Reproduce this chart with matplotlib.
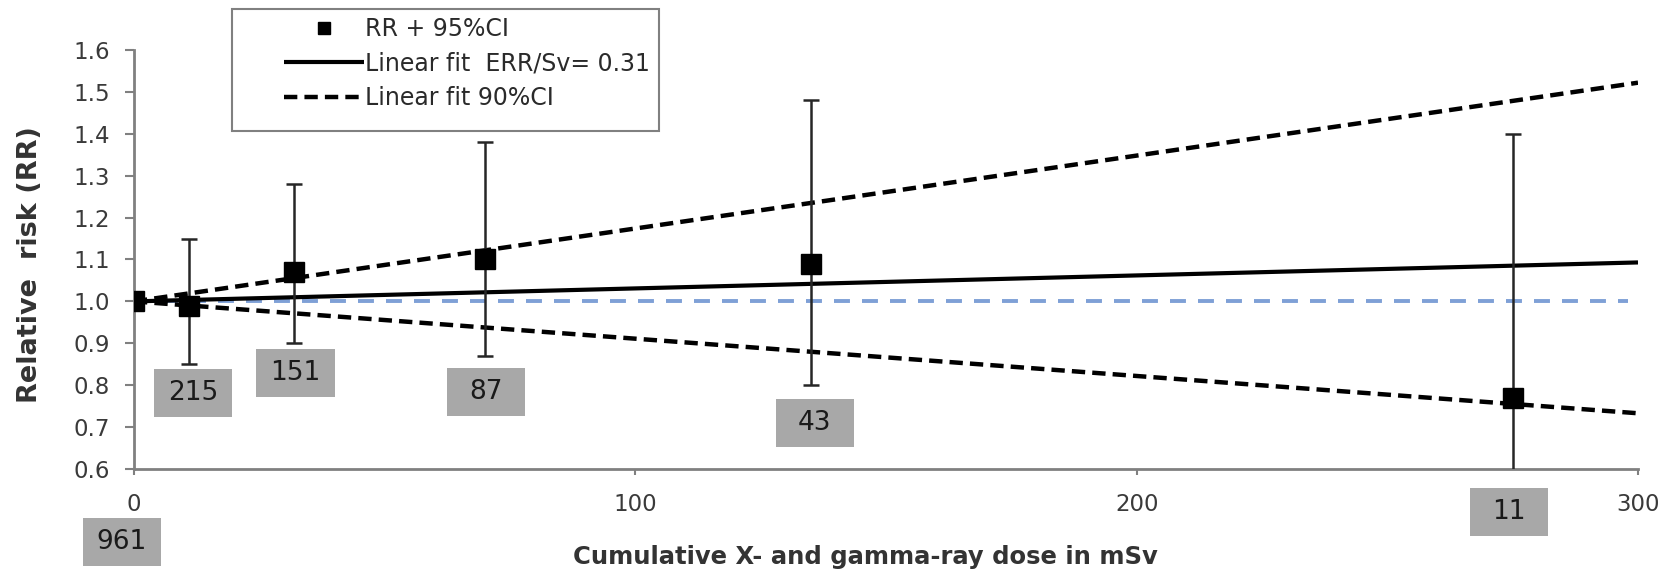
import matplotlib
matplotlib.use("Agg")
import matplotlib.pyplot as plt
from matplotlib.patches import Rectangle
import numpy as np

# ---------------- data ----------------
dose = [0, 11, 32, 70, 135, 275]                 # mSv
rr = [1.00, 0.99, 1.07, 1.10, 1.09, 0.77]
rr_low = [np.nan, 0.85, 0.90, 0.87, 0.80, 0.50]
rr_high = [np.nan, 1.15, 1.28, 1.38, 1.48, 1.40]
counts = ["961", "215", "151", "87", "43", "11"]

fit_x = [0, 300]
err_per_sv = 0.31
err_low_per_sv = -0.89
err_high_per_sv = 1.74
ref_level = 1.0
ref_extent = [0, 298]

x_ticks = [0, 100, 200, 300]
y_ticks = [0.6, 0.7, 0.8, 0.9, 1.0, 1.1, 1.2, 1.3, 1.4, 1.5, 1.6]

# ---------------- figure ----------------
plt.rcParams['font.family'] = ['DejaVu Sans']
W, H = 1671, 570
fig = plt.figure(figsize=(W / 100, H / 100), dpi=100)
ax = fig.add_axes([134 / W, 1 - 469 / H, 1504 / W, 419 / H])

fx = np.array(fit_x, dtype=float)
fit = 1 + err_per_sv * fx / 1000
fit_lo = 1 + err_low_per_sv * fx / 1000
fit_hi = 1 + err_high_per_sv * fx / 1000

ax.hlines(ref_level, ref_extent[0], ref_extent[1], colors='#7fa0d6',
          linewidth=2.8, linestyles=(0, (4.1, 3.1)), zorder=2)
ax.plot(fx, fit, color='black', lw=3, solid_capstyle='butt', zorder=3,
        label='Linear fit  ERR/Sv= 0.31')
ax.plot(fx, fit_hi, color='black', lw=3.2, ls=(0, (3.0, 1.6)), zorder=3,
        label='Linear fit 90%CI')
ax.plot(fx, fit_lo, color='black', lw=3.2, ls=(0, (3.0, 1.6)), zorder=3)

rr_a = np.array(rr)
yerr = np.vstack([rr_a - np.array(rr_low), np.array(rr_high) - rr_a])
yerr = np.nan_to_num(yerr, nan=0.0)
ax.errorbar(dose[1:], rr[1:], yerr=yerr[:, 1:], fmt='none', ecolor='#262626',
            elinewidth=1.8, capsize=6, capthick=1.8, zorder=4)
ax.plot(dose, rr, 's', color='black', ms=15, zorder=5, label='RR + 95%CI')

# count boxes (layout)
box_dx = [-2.4, 0.8, 0.2, 0.2, 0.8, -0.8]
box_y = [0.426, 0.781, 0.829, 0.784, 0.71, 0.497]
bw, bh = 15.6, 0.115
for x, dx, y, c in zip(dose, box_dx, box_y, counts):
    cx = x + dx
    ax.add_patch(Rectangle((cx - bw / 2, y - bh / 2), bw, bh, facecolor='#a8a8a8',
                           edgecolor='none', clip_on=False, zorder=6))
    ax.text(cx, y, c, ha='center', va='center', fontsize=19, color='#1a1a1a',
            zorder=7, clip_on=False)

ax.set_xlim(0, 300)
ax.set_ylim(0.6, 1.6)
ax.set_xticks(x_ticks)
ax.set_yticks(y_ticks)
ax.set_yticklabels([f"{v:.1f}" for v in y_ticks])
for s in ['top', 'right']:
    ax.spines[s].set_visible(False)
for s in ['left', 'bottom']:
    ax.spines[s].set_color('#808080')
    ax.spines[s].set_linewidth(2)
ax.tick_params(axis='y', length=6.5, width=1.5, color='#808080', pad=11,
               labelsize=16.5, labelcolor='#3a3a3a')
ax.tick_params(axis='x', length=4, width=1.5, color='#808080', pad=13,
               labelsize=16.5, labelcolor='#3a3a3a')

ax.set_xlabel('Cumulative X- and gamma-ray dose in mSv', fontsize=17.5,
              fontweight='bold', color='#333333')
ax.xaxis.label.set_verticalalignment('baseline')
ax.xaxis.set_label_coords((865 - 134) / 1504, (469 - 564) / 419)
ax.set_ylabel('Relative  risk (RR)', fontsize=19.5, fontweight='bold',
              color='#333333')
ax.yaxis.label.set_verticalalignment('center')
ax.yaxis.set_label_coords((30 - 134) / 1504, (469 - 265) / 419)

# legend with a separately drawn frame
fig.patches.append(Rectangle((232 / W, 1 - 131 / H), (659 - 232) / W, (131 - 9) / H,
                             transform=fig.transFigure, facecolor='white',
                             edgecolor='#808080', linewidth=1.5, zorder=10))
h, l = ax.get_legend_handles_labels()
order = [2, 0, 1]
leg = fig.legend([h[i] for i in order], [l[i] for i in order],
                 loc='upper left', bbox_to_anchor=(284 / W, 1 - 17 / H),
                 fontsize=17, frameon=False,
                 handlelength=3.4, handletextpad=0.05, labelspacing=0.45,
                 markerscale=0.6, borderpad=0, borderaxespad=0)
leg.set_zorder(11)
for t in leg.get_texts():
    t.set_color('#2a2a2a')

fig.savefig('out.png', dpi=100)
